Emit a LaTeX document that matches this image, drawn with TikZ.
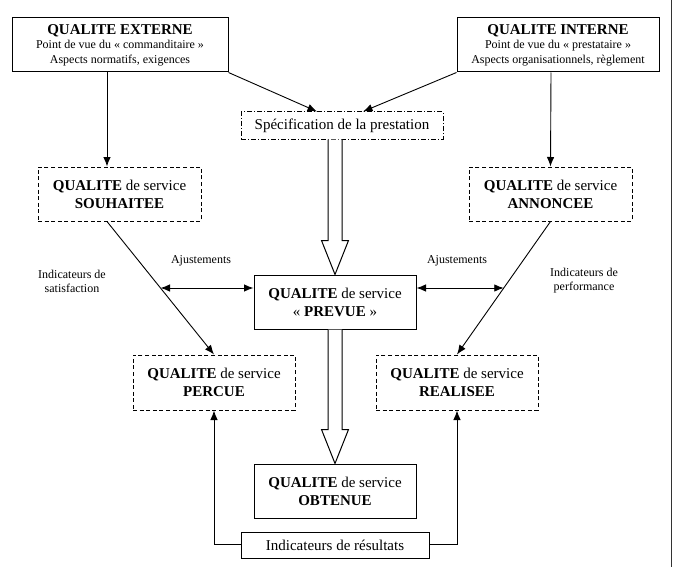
\documentclass[tikz,border=0pt]{standalone}
\usepackage{fontspec}
\setmainfont{Liberation Serif}
\usepackage{tikz}
\usetikzlibrary{calc,arrows.meta}
\tikzset{
myBox/.style={
	rectangle,draw,line width=1pt,
	inner sep=0pt,align=center,
	font=\fontsize{15}{18}\selectfont
}
, myDashBox/.style={
	myBox,dash pattern=on 4pt off 2.6pt
}
, myDotBox/.style={
	myBox,dash pattern=on 5pt off 2pt on 1pt off 2pt
}
, myTopBox/.style={
	myBox,font=\fontsize{12}{14.5}\selectfont
}
, myLabel/.style={
	align=center,inner sep=0pt,
	font=\fontsize{12}{14}\selectfont
}
% links
, myArrow/.style={->,line width=0.9pt}
, myAdjust/.style={<->,line width=0.9pt}
, myHollow/.style={line width=1pt,fill=white}
}

\begin{document}
\begin{tikzpicture}[x=1pt,y=-1pt,>={Latex[length=9.5pt,width=7.5pt]}]
	\useasboundingbox (0,0) rectangle (674,567);
	% page border
	\draw[line width=1pt,black!80] (671,0) -- (671,567);
	% nodes
	\node[myTopBox,minimum width=216pt,minimum height=54pt] (ext) at (120,45)
		{{\fontsize{15}{17}\selectfont\bfseries QUALITE EXTERNE}\\Point de vue du « commanditaire »\\Aspects normatifs, exigences};
	\node[myTopBox,minimum width=202pt,minimum height=54pt] (int) at (558,45)
		{{\fontsize{15}{17}\selectfont\bfseries QUALITE INTERNE}\\Point de vue du « prestataire »\\Aspects organisationnels, règlement};
	\node[myDotBox,minimum width=202pt,minimum height=27pt] (spec) at (342,125.5) {Spécification de la prestation};
	\node[myDashBox,minimum width=163pt,minimum height=54pt] (souh) at (119.5,194) {\textbf{QUALITE} de service\\\textbf{SOUHAITEE}};
	\node[myDashBox,minimum width=163pt,minimum height=54pt] (ann) at (550.5,194) {\textbf{QUALITE} de service\\\textbf{ANNONCEE}};
	\node[myBox,minimum width=162pt,minimum height=54pt] (prev) at (335,302) {\textbf{QUALITE} de service\\« \textbf{PREVUE} »};
	\node[myDashBox,minimum width=162pt,minimum height=55pt] (perc) at (214,382.5) {\textbf{QUALITE} de service\\\textbf{PERCUE}};
	\node[myDashBox,minimum width=162pt,minimum height=55pt] (real) at (457,382.5) {\textbf{QUALITE} de service\\\textbf{REALISEE}};
	\node[myBox,minimum width=162pt,minimum height=54pt] (obt) at (335,491) {\textbf{QUALITE} de service\\\textbf{OBTENUE}};
	\node[myBox,minimum width=188pt,minimum height=26pt] (res) at (335,545) {Indicateurs de résultats};
	% labels
	\node[myLabel] (ajL) at (201,261) {Ajustements};
	\node[myLabel] (ajR) at (457,261) {Ajustements};
	\node[myLabel] (satis) at (72,281) {Indicateurs de\\satisfaction};
	\node[myLabel] (perf) at (584,281) {Indicateurs de\\performance};

	% links
	\draw[myArrow] (ext.south east) to ([xshift=-25pt]spec.north);
	\draw[myArrow] (int.south west) to ([xshift=21pt]spec.north);
	\draw[myArrow] ([xshift=-13pt]ext.south) -- ([xshift=-12.5pt]souh.north);
	\draw[myArrow] ([xshift=-7pt]int.south) -- (ann.north);
	\draw[myArrow] ([xshift=-12.5pt]souh.south) -- (perc.north);
	\draw[myArrow] (ann.south) -- (real.north);
	\coordinate (meetL) at ($([xshift=-12.5pt]souh.south)!.5!(perc.north)$);
	\coordinate (meetR) at ($(ann.south)!.5!(real.north)$);
	\draw[myAdjust] (meetL) -- ([yshift=14pt]prev.west);
	\draw[myAdjust] ([yshift=14pt]prev.east) -- (meetR);
	\draw[myArrow] ([yshift=1pt]res.west) -| (perc.south);
	\draw[myArrow] ([yshift=1pt]res.east) -| (real.south);

	% hollow arrows
	\draw[myHollow] let \p1=(spec.south), \p2=(prev.north) in
		(\x2-7pt,\y1) -- (\x2-7pt,\y2+34pt) -- (\x2-13.5pt,\y2+34pt) -- (\x2,\y2)
		-- (\x2+13.5pt,\y2+34pt) -- (\x2+7pt,\y2+34pt) -- (\x2+7pt,\y1);
	\draw[myHollow] let \p1=(prev.south), \p2=(obt.north) in
		(\x2-7pt,\y1) -- (\x2-7pt,\y2+34pt) -- (\x2-13.5pt,\y2+34pt) -- (\x2,\y2)
		-- (\x2+13.5pt,\y2+34pt) -- (\x2+7pt,\y2+34pt) -- (\x2+7pt,\y1);
\end{tikzpicture}
\end{document}
